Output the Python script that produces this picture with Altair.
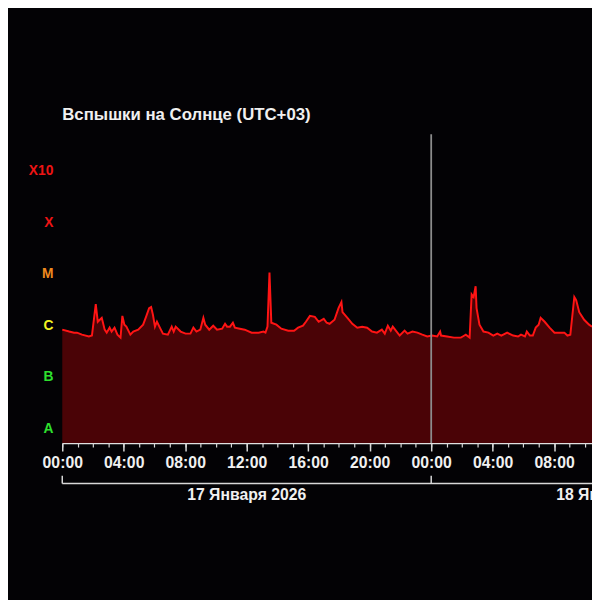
import altair as alt
import pandas as pd

# ---- data (hours since 17 Jan 2026 00:00 UTC+03, flux in units of 1e-6 W/m^2 = C1.0) ----
hours = [0.0, 0.45, 0.77, 0.96, 1.28, 1.73, 1.93, 2.18, 2.31, 2.57, 2.76, 2.89, 3.08, 3.21, 3.40,
         3.59, 3.79, 3.91, 4.04, 4.17, 4.43, 4.62, 4.94, 5.26, 5.45, 5.65, 5.78, 5.90, 6.03, 6.16,
         6.35, 6.55, 6.87, 7.12, 7.25, 7.38, 7.70, 8.02, 8.34, 8.53, 8.73, 8.98, 9.18, 9.30, 9.56,
         9.82, 10.07, 10.40, 10.59, 10.72, 10.91, 11.10, 11.23, 11.55, 11.87, 12.32, 12.77, 13.09,
         13.22, 13.35, 13.48, 13.60, 13.93, 14.25, 14.70, 15.08, 15.34, 15.66, 15.85, 16.11, 16.43,
         16.68, 17.01, 17.20, 17.39, 17.71, 17.97, 18.16, 18.23, 18.55, 18.87, 19.19, 19.51, 19.83,
         20.15, 20.47, 20.79, 20.98, 21.18, 21.37, 21.50, 21.75, 21.95, 22.27, 22.46, 22.78, 23.10,
         23.42, 23.74, 24.06, 24.39, 24.58, 24.64, 25.03, 25.48, 25.93, 26.05, 26.25, 26.50, 26.63,
         26.76, 26.89, 26.95, 27.14, 27.40, 27.72, 28.04, 28.30, 28.56, 28.94, 29.33, 29.65, 29.84,
         30.10, 30.22, 30.42, 30.61, 30.80, 30.99, 31.12, 31.38, 31.70, 32.02, 32.34, 32.66, 32.86,
         33.05, 33.31, 33.43, 33.63, 33.95, 34.27, 34.46]
flux_c = [1.60, 1.47, 1.40, 1.40, 1.28, 1.18, 1.23, 5.0, 2.28, 2.72, 1.60, 1.40, 1.75, 1.47, 1.75,
          1.28, 1.12, 2.97, 2.0, 1.83, 1.28, 1.47, 1.60, 2.0, 2.84, 4.2, 4.4, 3.1, 1.83, 2.28,
          1.75, 1.34, 1.28, 1.83, 1.47, 1.83, 1.47, 1.34, 1.34, 1.75, 1.47, 1.60, 2.72, 2.0, 1.60,
          1.91, 1.60, 1.67, 2.08, 1.83, 1.83, 2.18, 1.75, 1.67, 1.60, 1.40, 1.40, 1.47,
          1.40, 1.83, 20.7, 2.18, 2.0, 1.67, 1.53, 1.53, 1.75, 1.91, 2.28, 2.97, 2.84,
          2.28, 2.60, 2.18, 2.08, 2.49, 4.2, 5.5, 3.5, 2.72, 2.08, 1.75, 1.83, 1.75,
          1.47, 1.40, 1.60, 1.34, 1.91, 1.53, 1.83, 1.47, 1.23, 1.53, 1.34, 1.47, 1.40,
          1.28, 1.18, 1.23, 1.18, 1.47, 1.23, 1.18, 1.12, 1.12, 1.18, 1.28, 1.12, 7.8,
          6.9, 11.2, 4.2, 2.0, 1.47, 1.40, 1.23, 1.34, 1.23, 1.40, 1.23, 1.18, 1.28,
          1.18, 1.47, 1.23, 1.23, 1.75, 2.0, 2.72, 2.28, 1.75, 1.40, 1.40, 1.40, 1.23,
          1.28, 6.9, 6.0, 3.5, 2.49, 2.0, 1.83]

class_labels = ["A", "B", "C", "M", "X", "X10"]
class_colors = ["#2ee02e", "#2ee02e", "#f2f222", "#f08a1e", "#ee1414", "#ee1414"]
x_domain = [0, 34.46]
major_hours = list(range(0, 33, 4))
minor_hours = list(range(0, 35))
day_bounds = [0, 24, 48]
day_centers = [12, 36]
day_labels = ["17 Января 2026", "18 Января 2026"]
title_text = "Вспышки на Солнце (UTC+03)"

BG = "#030205"
FG = "#f0f0f0"
FONT = "Liberation Sans"

df = pd.DataFrame({"h": hours, "flux": flux_c})
x_scale = alt.Scale(domain=x_domain, nice=False, zero=False)
y_scale = alt.Scale(domain=[0, 6], nice=False, zero=False)

area = alt.Chart(df).transform_calculate(
    lv="log(datum.flux)/LN10 + 2"
).mark_area(
    color="#4a0306", opacity=1, interpolate="linear",
    line={"color": "#ff1414", "strokeWidth": 2},
).encode(
    x=alt.X("h:Q", scale=x_scale, title=None,
            axis=alt.Axis(orient="bottom", values=major_hours,
                          labelExpr="(datum.value % 24 < 10 ? '0' : '') + (datum.value % 24) + ':00'",
                          tickSize=8, tickColor="#d8d8d8", tickWidth=1.5,
                          domainColor="#e0e0e0", domainWidth=1.5,
                          labelColor=FG, labelFont=FONT, labelFontSize=16, labelFontWeight="bold",
                          labelPadding=4, labelFlush=False, labelOverlap=False, labelBound=False,
                          grid=False)),
    y=alt.Y("lv:Q", scale=y_scale, title=None,
            axis=alt.Axis(values=list(range(7)), labels=False, tickSize=18,
                          tickColor="#cfcfcf", tickWidth=1.2,
                          domainColor="#d8d8d8", domainWidth=1.5,
                          grid=True,
                          gridColor={"condition": {"test": "datum.value == 6", "value": "#d8d8d8"},
                                     "value": "#707070"},
                          gridWidth=1.2)),
)

minor = alt.Chart(pd.DataFrame({"h": minor_hours})).mark_point(opacity=0).encode(
    x=alt.X("h:Q", scale=x_scale, title=None,
            axis=alt.Axis(orient="bottom", values=minor_hours, labels=False, domain=False,
                          tickSize=4, tickColor="#d8d8d8", tickWidth=1.2, grid=False)),
)

day_rule = alt.Chart(pd.DataFrame({"h": [24]})).mark_rule(color="#8c8c8c", strokeWidth=1.8).encode(
    x=alt.X("h:Q", scale=x_scale, axis=None),
)

bracket_line = alt.Chart(pd.DataFrame({"a": [day_bounds[0]], "b": [day_bounds[-1]]})).mark_rule(
    color="#d8d8d8", strokeWidth=1.5
).encode(
    x=alt.X("a:Q", scale=x_scale, axis=None), x2="b:Q", y=alt.value(354),
)

bracket_ticks = alt.Chart(pd.DataFrame({"h": day_bounds})).mark_rule(
    color="#d8d8d8", strokeWidth=1.5
).encode(
    x=alt.X("h:Q", scale=x_scale, axis=None), y=alt.value(346), y2=alt.value(354),
)

day_text = alt.Chart(pd.DataFrame({"h": day_centers, "t": day_labels})).mark_text(
    font=FONT, fontSize=16, fontWeight="bold", color=FG, baseline="middle", align="center"
).encode(
    x=alt.X("h:Q", scale=x_scale, axis=None), y=alt.value(366), text="t:N",
)

cls_df = pd.DataFrame({"lab": class_labels, "pos": [i + 0.28 for i in range(len(class_labels))]})
cls_text = alt.Chart(cls_df).mark_text(
    font=FONT, fontSize=14, fontWeight="bold", align="right", baseline="middle"
).encode(
    x=alt.value(-9),
    y=alt.Y("pos:Q", scale=y_scale, axis=None),
    text="lab:N",
    color=alt.Color("lab:N", scale=alt.Scale(domain=class_labels, range=class_colors), legend=None),
)

chart = alt.layer(
    area, minor, day_rule, bracket_line, bracket_ticks, day_text, cls_text
).resolve_axis(x="independent").properties(
    width=537, height=313,
    title=alt.TitleParams(title_text, anchor="start", frame="group", font=FONT, fontSize=17,
                          fontWeight="bold", color=FG, offset=10),
    autosize=alt.AutoSizeParams(type="none"),
    padding={"left": 55, "top": 124, "right": 0, "bottom": 155},
    background=BG,
).configure_view(stroke=None)

chart.save("out.html", embed_options={"renderer": "svg", "actions": False})
